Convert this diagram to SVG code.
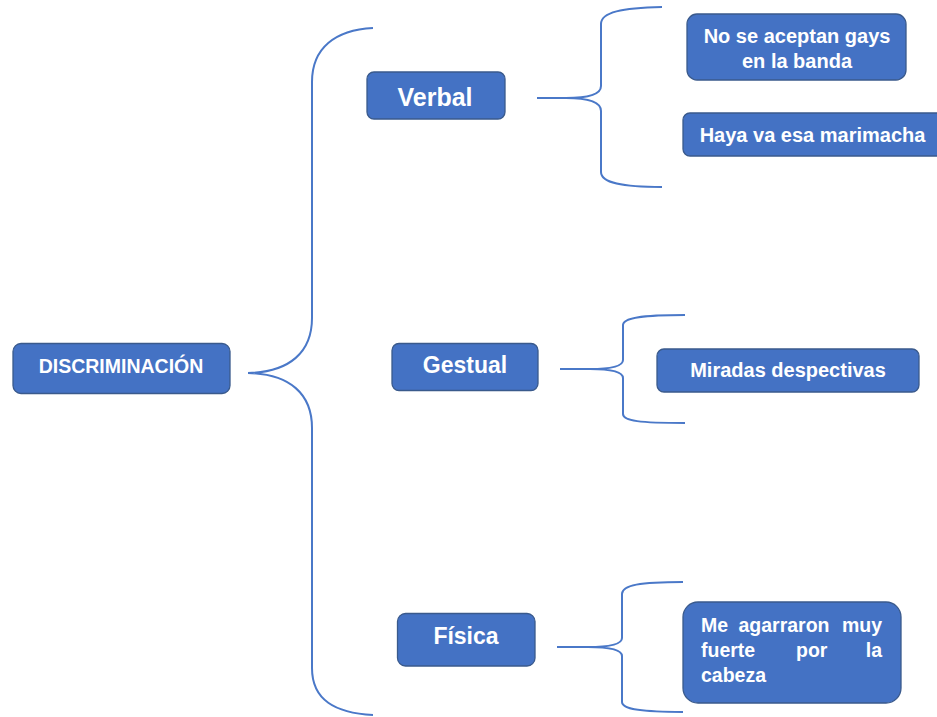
<svg xmlns="http://www.w3.org/2000/svg" width="937" height="717" viewBox="0 0 937 717">
<style>
.box{fill:#4472C4;stroke:#3A5A8C;stroke-width:1.3}
.t{fill:#ffffff;font-family:"Liberation Sans",Arial,sans-serif;font-weight:bold}
.c{text-anchor:middle}
.e{text-anchor:end}
.br{fill:none;stroke:#4A78C8;stroke-width:2}
</style>
<rect x="0" y="0" width="937" height="717" fill="#ffffff"/>
<g id="connectors">
<path class="br" d="M373,28 C335,30 312,48 312,82 L312,318 C312,352 290,372 248,373 C290,374 312,394 312,428 L312,668 C312,700 335,713 373,715"/>
<path class="br" d="M537,98 L566,98 C590,98 601,94 601,86 L601,24 C601,12 622,8 662,7 M566,98 C590,98 601,102 601,111 L601,172 C601,183 622,187 662,187"/>
<path class="br" d="M560,369 L590,369 C612,369 623,366 623,360 L623,325 C623,318 640,315 685,315 M590,369 C612,369 623,372 623,378 L623,414 C623,421 640,423 685,423"/>
<path class="br" d="M557,647 L588,647 C610,647 622,644 622,638 L622,594 C622,585 640,582 683,582 M588,647 C610,647 622,650 622,656 L622,702 C622,709 640,712 683,712"/>
</g>
<g id="discriminacion">
<rect class="box" x="13" y="343.5" width="217" height="50" rx="8"/>
<text class="t c" x="121" y="373" font-size="19.5">DISCRIMINACIÓN</text>
</g>
<g id="verbal">
<rect class="box" x="367" y="72" width="138" height="47" rx="7"/>
<text class="t c" x="435" y="106" font-size="25">Verbal</text>
</g>
<g id="gestual">
<rect class="box" x="392" y="343.5" width="146" height="47" rx="7"/>
<text class="t c" x="465" y="372.5" font-size="23">Gestual</text>
</g>
<g id="fisica">
<rect class="box" x="397.5" y="613.5" width="137.5" height="52.5" rx="8"/>
<text class="t c" x="466" y="644" font-size="23">Física</text>
</g>
<g id="no-se-aceptan">
<rect class="box" x="687" y="14" width="219" height="66" rx="10"/>
<text class="t c" x="797" y="42.5" font-size="20">No se aceptan gays</text>
<text class="t c" x="797" y="68" font-size="20">en la banda</text>
</g>
<g id="haya-va">
<rect class="box" x="683" y="113" width="262" height="43" rx="7"/>
<text class="t c" x="812.5" y="141.5" font-size="20">Haya va esa marimacha</text>
</g>
<g id="miradas">
<rect class="box" x="657" y="349" width="262" height="43" rx="7"/>
<text class="t c" x="788" y="376.5" font-size="20">Miradas despectivas</text>
</g>
<g id="me-agarraron">
<rect class="box" x="683" y="602" width="218" height="101" rx="15"/>
<text class="t" x="701" y="631.5" font-size="19.5">Me</text>
<text class="t" x="738.5" y="631.5" font-size="19.5">agarraron</text>
<text class="t e" x="882" y="631.5" font-size="19.5">muy</text>
<text class="t" x="701" y="656.5" font-size="19.5">fuerte</text>
<text class="t" x="796" y="656.5" font-size="19.5">por</text>
<text class="t e" x="882" y="656.5" font-size="19.5">la</text>
<text class="t" x="701" y="681.5" font-size="19.5">cabeza</text>
</g>
</svg>
